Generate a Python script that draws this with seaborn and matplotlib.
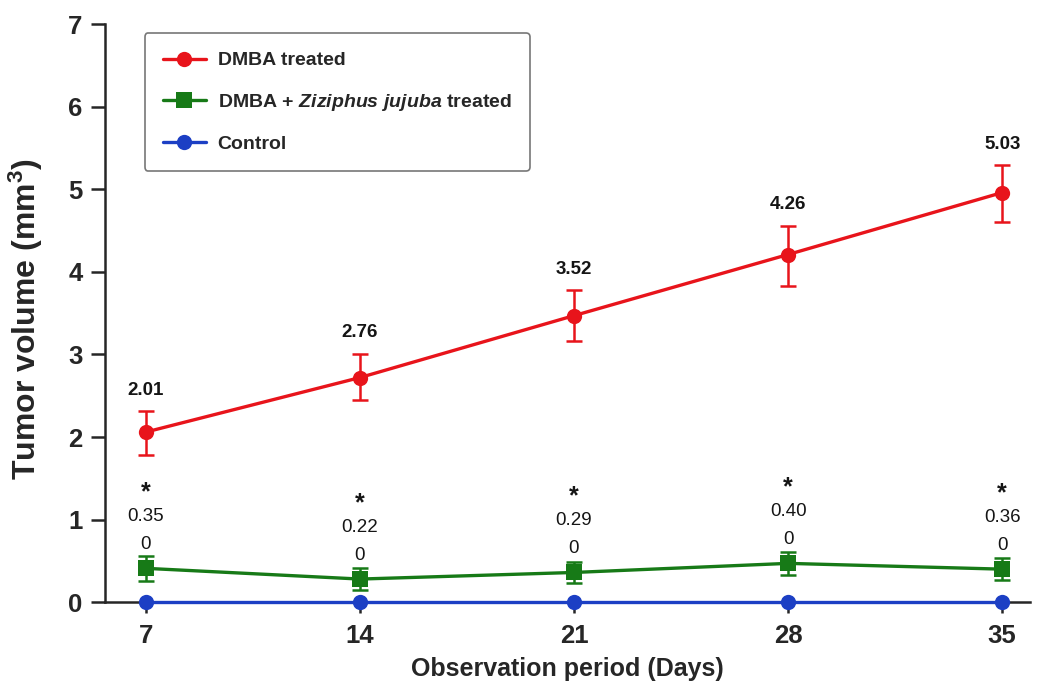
import matplotlib
matplotlib.use("Agg")
import matplotlib.pyplot as plt
import seaborn as sns
import pandas as pd

# ---- data ----
days = [7, 14, 21, 28, 35]
dmba = [2.06, 2.72, 3.47, 4.21, 4.96]
dmba_err_lo = [0.28, 0.27, 0.31, 0.38, 0.36]
dmba_err_hi = [0.25, 0.29, 0.31, 0.35, 0.33]
dmba_labels = ["2.01", "2.76", "3.52", "4.26", "5.03"]
zj = [0.41, 0.28, 0.36, 0.47, 0.40]
zj_err = [0.15, 0.13, 0.13, 0.14, 0.13]
zj_labels = ["0.35", "0.22", "0.29", "0.40", "0.36"]
control = [0, 0, 0, 0, 0]
control_labels = ["0", "0", "0", "0", "0"]
series_names = ["DMBA treated", r"DMBA + $\mathit{Ziziphus\ jujuba}$ treated", "Control"]
colors = ["#e8141b", "#177a17", "#1c3fc4"]
markers = ["o", "s", "o"]

sns.set_style("ticks")
plt.rcParams['font.family'] = ['Liberation Sans', 'DejaVu Sans']
plt.rcParams['mathtext.fontset'] = 'custom'
plt.rcParams['mathtext.rm'] = 'Liberation Sans:bold'
plt.rcParams['mathtext.it'] = 'Liberation Sans:italic:bold'
plt.rcParams['mathtext.bf'] = 'Liberation Sans:bold'

fig = plt.figure(figsize=(10.38, 6.89), dpi=100)
ax = fig.add_axes([0.101, 0.126, 0.891, 0.839])

df = pd.DataFrame({
    "day": days * 3,
    "vol": dmba + zj + control,
    "group": [series_names[0]] * 5 + [series_names[1]] * 5 + [series_names[2]] * 5,
})

# error bars
ax.errorbar(days, dmba, yerr=[dmba_err_lo, dmba_err_hi], fmt="none",
            ecolor=colors[0], elinewidth=1.8, capsize=6, capthick=1.8, zorder=2)
ax.errorbar(days, zj, yerr=zj_err, fmt="none",
            ecolor=colors[1], elinewidth=1.8, capsize=6, capthick=1.8, zorder=2)

sns.lineplot(data=df, x="day", y="vol", hue="group", style="group",
             palette=colors, markers=markers, dashes=False,
             hue_order=series_names, style_order=series_names,
             linewidth=2.4, markersize=11, markeredgewidth=0,
             ax=ax, clip_on=False, zorder=3)

# value labels
for d, v, hi, lab in zip(days, dmba, dmba_err_hi, dmba_labels):
    ax.annotate(lab, (d, v + hi), xytext=(0, 9), textcoords="offset points",
                ha="center", va="bottom", fontsize=13.5, fontweight="bold",
                color="#151515")
for d, v, lab, clab in zip(days, zj, zj_labels, control_labels):
    ax.annotate(clab, (d, v), xytext=(0, 11), textcoords="offset points",
                ha="center", va="bottom", fontsize=13.5, color="#151515")
    ax.annotate(lab, (d, v), xytext=(0, 31), textcoords="offset points",
                ha="center", va="bottom", fontsize=13.5, color="#151515")
    ax.annotate("*", (d, v), xytext=(0, 46), textcoords="offset points",
                ha="center", va="bottom", fontsize=18, fontweight="bold",
                color="#151515")

ax.set_xlim(5.66, 35.9)
ax.set_ylim(0, 7)
ax.set_xticks(days)
ax.set_yticks(range(0, 8))
ax.tick_params(axis="both", labelsize=18.5, width=1.8, direction="out")
ax.tick_params(axis="y", length=10, pad=6)
ax.tick_params(axis="x", length=8, pad=8)
for lab in ax.get_xticklabels() + ax.get_yticklabels():
    lab.set_fontweight("bold")
sns.despine(ax=ax)
ax.spines["left"].set_linewidth(1.8)
ax.spines["bottom"].set_linewidth(1.8)

ax.set_xlabel("Observation period (Days)", fontsize=18, fontweight="bold", labelpad=6)
ax.set_ylabel(r"Tumor volume (mm$^\mathbf{3}$)", fontsize=23, fontweight="bold")
ax.yaxis.set_label_coords(-0.065, 0.49)

leg = ax.legend(loc="upper left", bbox_to_anchor=(0.043, 0.984), borderaxespad=0,
                prop={"size": 14, "weight": "bold"},
                frameon=True, fancybox=True, edgecolor="#555555",
                handlelength=2.2, labelspacing=1.15, borderpad=0.95,
                handletextpad=0.6)
leg.get_frame().set_linewidth(1.2)

fig.savefig("out.png", dpi=100)
